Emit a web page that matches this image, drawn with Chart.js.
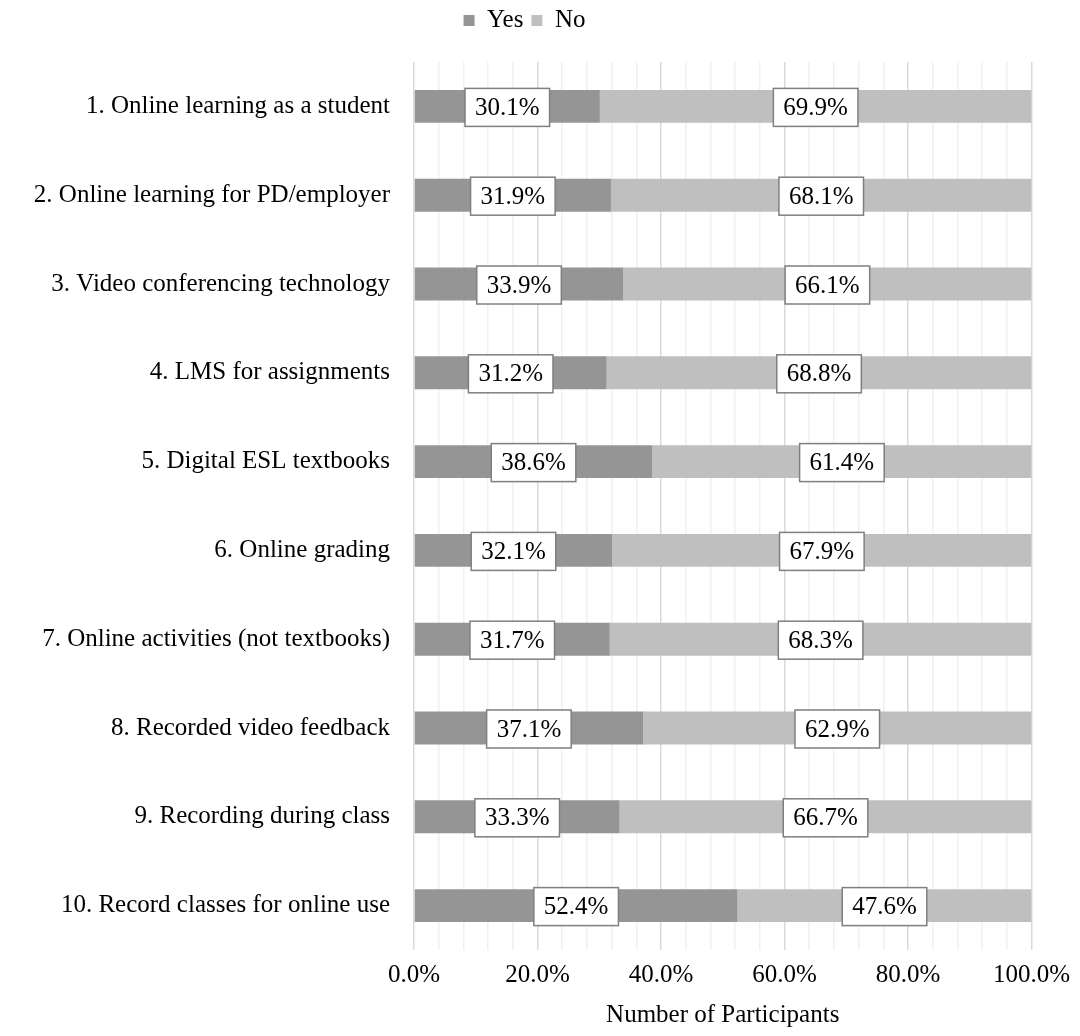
<!DOCTYPE html>
<html>
<head>
<meta charset="utf-8">
<script src="https://cdn.jsdelivr.net/npm/chart.js@4"></script>
<style>
  html, body { margin: 0; padding: 0; background: #fff; }
  #wrap { width: 1080px; height: 1036px; position: relative; }
</style>
</head>
<body>
<div id="wrap"><canvas id="chart"></canvas></div>
<script>
const categories = [
  '1. Online learning as a student',
  '2. Online learning for PD/employer',
  '3. Video conferencing technology',
  '4. LMS for assignments',
  '5. Digital ESL textbooks',
  '6. Online grading',
  '7. Online activities (not textbooks)',
  '8. Recorded video feedback',
  '9. Recording during class',
  '10. Record classes for online use'
];
const yesValues = [30.1, 31.9, 33.9, 31.2, 38.6, 32.1, 31.7, 37.1, 33.3, 52.4];
const noValues  = [69.9, 68.1, 66.1, 68.8, 61.4, 67.9, 68.3, 62.9, 66.7, 47.6];
const xTicks = [0, 20, 40, 60, 80, 100];

const FONT = '"Liberation Serif", "Times New Roman", serif';
const FS = 25;

// white boxed value labels in the middle of each segment
const boxLabels = {
  id: 'boxLabels',
  afterDatasetsDraw(chart) {
    const ctx = chart.ctx;
    ctx.save();
    ctx.font = FS + 'px ' + FONT;
    ctx.textAlign = 'center';
    ctx.textBaseline = 'middle';
    chart.data.datasets.forEach((ds, di) => {
      chart.getDatasetMeta(di).data.forEach((bar, i) => {
        const txt = ds.data[i].toFixed(1) + '%';
        const cx = (bar.x + bar.base) / 2;
        const cy = bar.y + 1;
        const w = ctx.measureText(txt).width + 20;
        const h = 38;
        ctx.fillStyle = '#fff';
        ctx.fillRect(cx - w / 2, cy - h / 2, w, h);
        ctx.strokeStyle = '#7f7f7f';
        ctx.lineWidth = 1.5;
        ctx.strokeRect(cx - w / 2, cy - h / 2, w, h);
        ctx.fillStyle = '#000';
        ctx.fillText(txt, cx, cy + 1);
      });
    });
    ctx.restore();
  }
};

// extra room between legend and plot
const legendGap = {
  id: 'legendGap',
  beforeInit(chart) {
    const fit = chart.legend.fit;
    chart.legend.fit = function () {
      fit.call(this);
      this.height += 19;
    };
  }
};

new Chart(document.getElementById('chart'), {
  type: 'bar',
  data: {
    labels: categories,
    datasets: [
      { label: 'Yes', data: yesValues, backgroundColor: '#959595' },
      { label: 'No', data: noValues, backgroundColor: '#bfbfbf' }
    ]
  },
  options: {
    indexAxis: 'y',
    responsive: true,
    maintainAspectRatio: false,
    animation: false,
    layout: { padding: { left: 10, right: 41, top: 0, bottom: 6 } },
    datasets: { bar: { categoryPercentage: 1, barPercentage: 0.37 } },
    scales: {
      x: {
        stacked: true,
        min: 0, max: 100,
        ticks: {
          stepSize: 4,
          autoSkip: false,
          maxRotation: 0,
          color: '#000',
          font: { family: FONT, size: FS },
          padding: 10,
          callback: v => xTicks.includes(v) ? v.toFixed(1) + '%' : ''
        },
        grid: {
          color: c => (c.tick && c.tick.value % 20 === 0) ? '#d9d9d9' : '#f0f0f0',
          lineWidth: 1.5,
          drawTicks: false
        },
        border: { display: false },
        title: {
          display: true,
          text: 'Number of Participants',
          color: '#000',
          font: { family: FONT, size: FS },
          padding: { top: 0, bottom: 0 }
        }
      },
      y: {
        stacked: true,
        afterFit: s => { s.width = 404; },
        ticks: {
          color: '#000',
          font: { family: FONT, size: FS },
          padding: 24
        },
        grid: { display: false, drawTicks: false },
        border: { display: false }
      }
    },
    plugins: {
      legend: {
        position: 'top',
        labels: {
          color: '#000',
          font: { family: FONT, size: FS },
          boxWidth: 11,
          boxHeight: 11,
          padding: 8,
          useBorderRadius: false
        }
      },
      tooltip: { enabled: false }
    }
  },
  plugins: [legendGap, boxLabels]
});
</script>
</body>
</html>
